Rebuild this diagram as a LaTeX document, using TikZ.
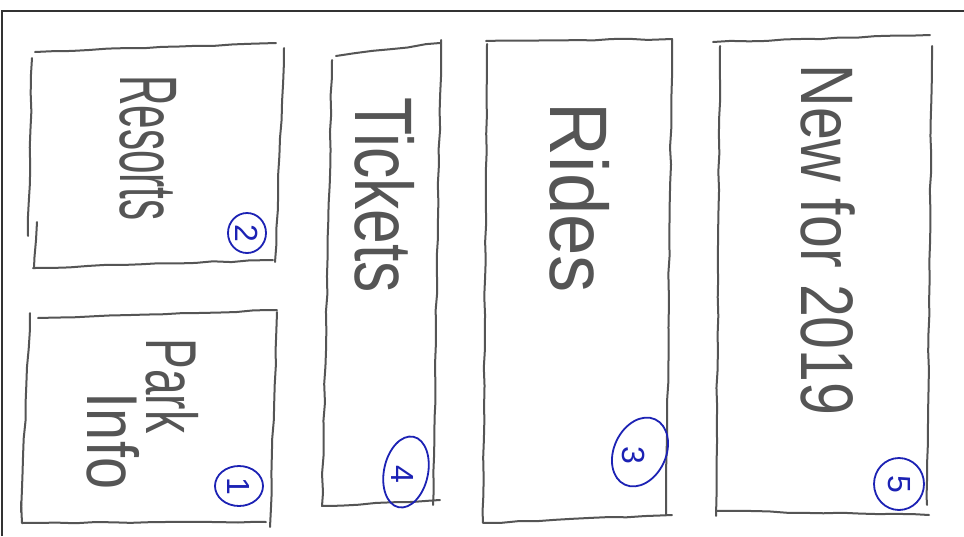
\documentclass[tikz,border=0pt]{standalone}
\usepackage{fontspec}
\usepackage{graphicx}
\setmainfont{Liberation Sans}
\usetikzlibrary{decorations.pathmorphing}
\definecolor{pencil}{HTML}{555555}
\definecolor{penblue}{HTML}{1C22B4}
\newcommand{\hw}[3]{\scalebox{#1}[#2]{#3}}
\tikzset{
  sketch/.style={draw=pencil, line width=2pt, line cap=round, line join=round,
    decorate, decoration={random steps, segment length=18pt, amplitude=0.7pt}},
  frameline/.style={draw=black!80, line width=1.2pt},
  hand/.style={text=pencil, font=\fontsize{48}{48}\selectfont, rotate=-90, inner sep=0pt},
  numcirc/.style={draw=penblue, line width=1.8pt},
  numtext/.style={text=penblue, font=\fontsize{32}{32}\selectfont, rotate=-90, inner sep=0pt}
}
\begin{document}
\begin{tikzpicture}[x=1pt,y=-1pt]
\pgfmathsetseed{7}
\useasboundingbox (0,0) rectangle (964,536);
\fill[white] (0,0) rectangle (964,536);
% outer frame
\draw[frameline] (2,536) -- (2,11) -- (964,11);

% Resorts box
\draw[sketch] (35,52) -- (276,43);
\draw[sketch] (284,48) -- (275,262);
\draw[sketch] (33,268) -- (273,260);
\draw[sketch] (32,58) -- (28,236);
\draw[sketch] (37,222) -- (34,268);
% Park Info box
\draw[sketch] (38,318) -- (277,310);
\draw[sketch] (30,313) -- (21,512);
\draw[sketch] (21,502) -- (22,523) -- (266,522);
\draw[sketch] (277,312) -- (270,527);
% Tickets box
\draw[sketch] (336,56) -- (440,43);
\draw[sketch] (441,40) -- (433,505);
\draw[sketch] (332,60) -- (322,506) -- (440,500);
% Rides box
\draw[sketch] (486,41) -- (672,39);
\draw[sketch] (672,39) -- (666,515);
\draw[sketch] (487,44) -- (483,523) -- (672,515);
% New for 2019 box
\draw[sketch] (713,42) -- (930,35);
\draw[sketch] (720,46) -- (716,516);
\draw[sketch] (932,46) -- (927,505);
\draw[sketch] (716,511) -- (929,515);

% handwritten labels
\node[hand] (resorts) at (148,148) {\hw{0.88}{1.7}{Resorts}};
\node[hand] (park) at (172,386) {\hw{0.96}{1.5}{Park}};
\node[hand] (info) at (113,441) {\hw{1.2}{1.5}{Info}};
\node[hand] (tickets) at (385,195) {\hw{1.3}{1.7}{Tickets}};
\node[hand] (rides) at (580,198) {\hw{1.55}{1.7}{Rides}};
\node[hand] (new) at (828,240) {\hw{1.23}{1.55}{New for 2019}};

% circled numbers
\draw[numcirc] (247,233) ellipse [x radius=19, y radius=20];
\node[numtext] (n2) at (247,233) {2};
\draw[numcirc] (239,486) ellipse [x radius=24, y radius=20];
\node[numtext] (n1) at (239,486) {1};
\draw[numcirc, rotate around={-12:(406,472)}] (406,472) ellipse [x radius=22, y radius=36];
\node[numtext] (n4) at (403,474) {4};
\draw[numcirc, rotate around={-25:(640,452)}] (640,452) ellipse [x radius=26, y radius=36];
\node[numtext] (n3) at (634,455) {3};
\draw[numcirc] (899,484) ellipse [x radius=25, y radius=26];
\node[numtext] (n5) at (899,484) {5};
\end{tikzpicture}
\end{document}
